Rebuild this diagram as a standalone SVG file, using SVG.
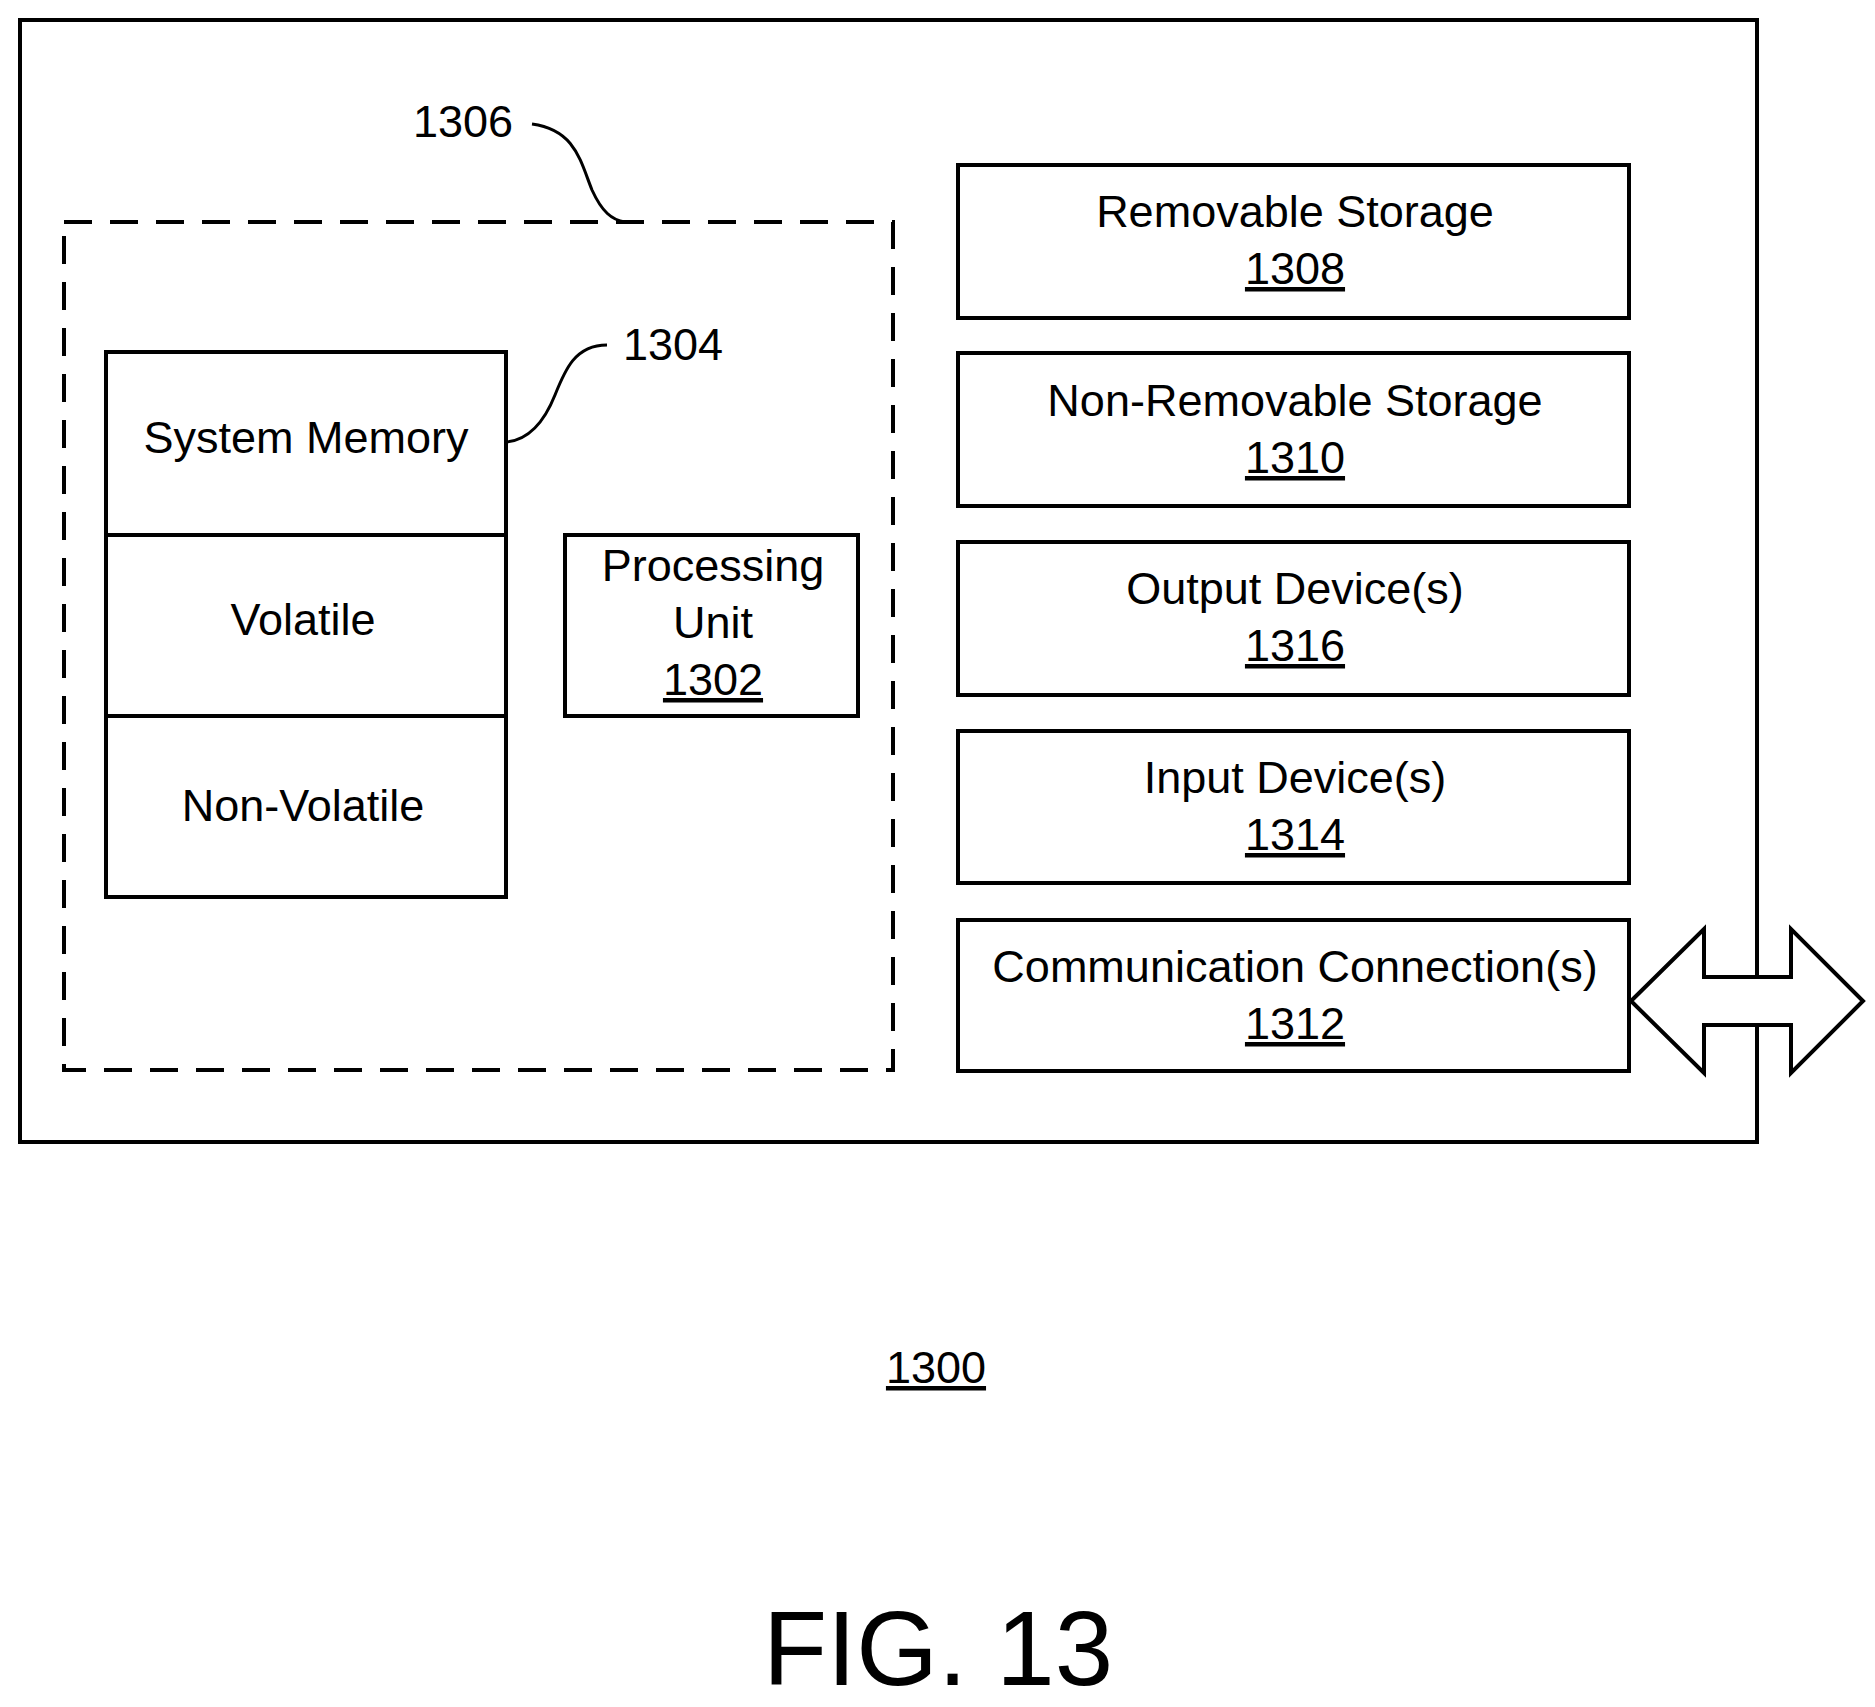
<svg xmlns="http://www.w3.org/2000/svg" width="1875" height="1707" viewBox="0 0 1875 1707">
<style>
.b{fill:#fff;stroke:#000;stroke-width:4}
.l{fill:none;stroke:#000;stroke-width:3}
text{font-family:"Liberation Sans",Arial,sans-serif;font-size:45px;text-anchor:middle;fill:#000}
.u{text-decoration:underline}
</style>
<rect width="1875" height="1707" fill="#fff"/>
<g id="device"><rect class="b" x="20" y="20" width="1737" height="1122"/></g>
<g id="n1306"><rect x="64" y="222" width="829" height="848" fill="none" stroke="#000" stroke-width="4" stroke-dasharray="28,18"/></g>
<g id="memory">
<rect class="b" x="106" y="352" width="400" height="183"/>
<text x="306" y="453">System Memory</text>
<rect class="b" x="106" y="535" width="400" height="181"/>
<text x="303" y="635">Volatile</text>
<rect class="b" x="106" y="716" width="400" height="181"/>
<text x="303" y="821">Non-Volatile</text>
</g>
<g id="n1302"><rect class="b" x="565" y="535" width="293" height="181"/>
<text x="713" y="581">Processing</text><text x="713" y="638">Unit</text><text x="713" y="695" class="u">1302</text></g>
<g id="n1308"><rect class="b" x="958" y="165" width="671" height="153"/><text x="1295" y="227">Removable Storage</text><text x="1295" y="284" class="u">1308</text></g>
<g id="n1310"><rect class="b" x="958" y="353" width="671" height="153"/><text x="1295" y="416">Non-Removable Storage</text><text x="1295" y="473" class="u">1310</text></g>
<g id="n1316"><rect class="b" x="958" y="542" width="671" height="153"/><text x="1295" y="604">Output Device(s)</text><text x="1295" y="661" class="u">1316</text></g>
<g id="n1314"><rect class="b" x="958" y="731" width="671" height="152"/><text x="1295" y="793">Input Device(s)</text><text x="1295" y="850" class="u">1314</text></g>
<g id="n1312"><rect class="b" x="958" y="920" width="671" height="151"/><text x="1295" y="982">Communication Connection(s)</text><text x="1295" y="1039" class="u">1312</text></g>
<g id="connectors">
<polygon class="b" points="1631,1001 1704,929 1704,977 1791,977 1791,929 1863,1001 1791,1073 1791,1025 1704,1025 1704,1073"/>
<line class="b" x1="1757" y1="20" x2="1757" y2="977"/>
<line class="b" x1="1757" y1="1025" x2="1757" y2="1142"/>
<path class="l" d="M532,124 C575,130 580,160 592,190 C602,212 612,220 625,222"/>
<path class="l" d="M607,345 C575,345 565,370 555,395 C545,420 530,440 506,442"/>
</g>
<g id="labels">
<text x="463" y="137">1306</text>
<text x="673" y="360">1304</text>
<text x="936" y="1383" class="u">1300</text>
<text x="938" y="1685" style="font-size:105px">FIG. 13</text>
</g>
</svg>
